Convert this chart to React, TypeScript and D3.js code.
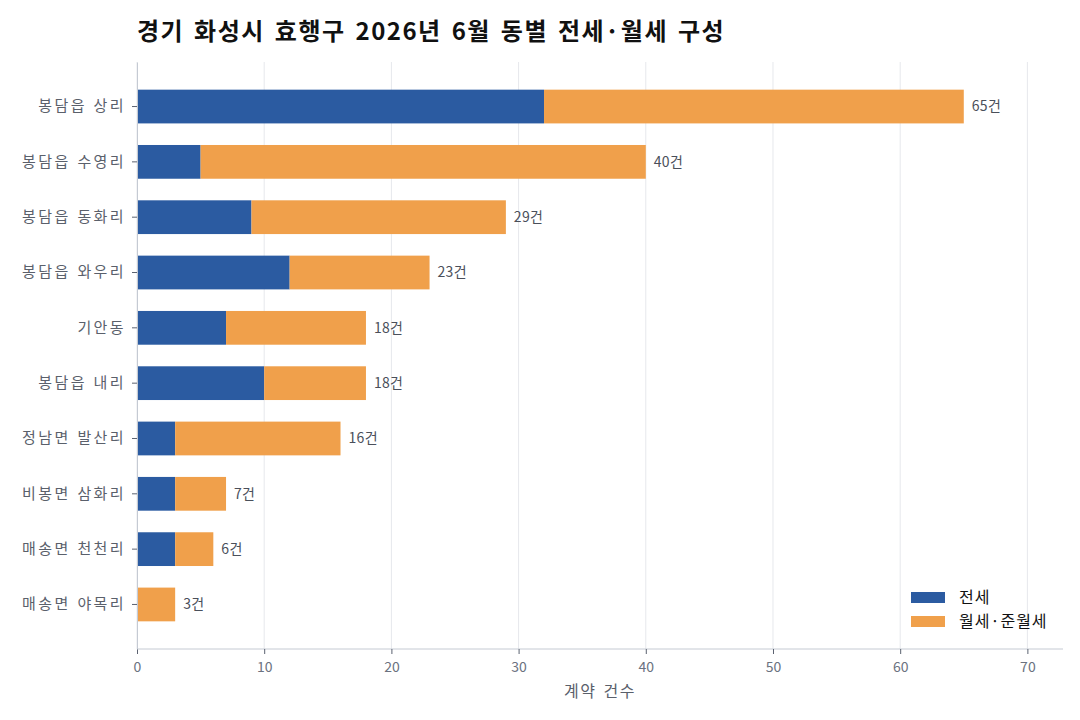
import { useEffect, useRef } from "react";
import { select, scaleLinear, scaleBand, axisBottom, axisLeft } from "d3";

const width = 1080;
const height = 720;
const margin = { top: 62, right: 17, bottom: 71, left: 137 };

const dongs = [
  "봉담읍 상리",
  "봉담읍 수영리",
  "봉담읍 동화리",
  "봉담읍 와우리",
  "기안동",
  "봉담읍 내리",
  "정남면 발산리",
  "비봉면 삼화리",
  "매송면 천천리",
  "매송면 야목리",
];
const jeonse = [32, 5, 9, 12, 7, 10, 3, 3, 3, 0];
const wolse = [33, 35, 20, 11, 11, 8, 13, 4, 3, 3];
const seriesNames = ["전세", "월세·준월세"];
const colors = ["#2b5ba1", "#f0a04b"];
const xTicks = [0, 10, 20, 30, 40, 50, 60, 70];

const font = "'Noto Sans CJK KR', 'Noto Sans', sans-serif";

export default function App() {
  const gRef = useRef<SVGGElement | null>(null);

  useEffect(() => {
    const innerW = width - margin.left - margin.right;
    const innerH = height - margin.top - margin.bottom;
    const totals = dongs.map((_, i) => jeonse[i] + wolse[i]);
    const maxTotal = Math.max(...totals);

    const x = scaleLinear().domain([0, maxTotal * 1.12]).range([0, innerW]);
    const y = scaleBand<string>()
      .domain(dongs)
      .range([0, innerH])
      .paddingInner(0.39)
      .paddingOuter(0.5);

    const g = select(gRef.current);
    g.selectAll("*").remove();

    // grid
    g.append("g")
      .selectAll("line")
      .data(xTicks)
      .join("line")
      .attr("x1", (d) => x(d))
      .attr("x2", (d) => x(d))
      .attr("y1", 0)
      .attr("y2", innerH)
      .attr("stroke", "#e6e8ec")
      .attr("stroke-width", 1);

    // bars
    const rows = g
      .append("g")
      .selectAll("g")
      .data(dongs)
      .join("g")
      .attr("transform", (d) => `translate(0,${y(d)})`);

    rows
      .append("rect")
      .attr("x", 0)
      .attr("y", 0)
      .attr("width", (_, i) => x(jeonse[i]))
      .attr("height", y.bandwidth())
      .attr("fill", colors[0]);

    rows
      .append("rect")
      .attr("x", (_, i) => x(jeonse[i]))
      .attr("y", 0)
      .attr("width", (_, i) => x(wolse[i]))
      .attr("height", y.bandwidth())
      .attr("fill", colors[1]);

    rows
      .append("text")
      .attr("x", (_, i) => x(totals[i]) + 8)
      .attr("y", y.bandwidth() / 2)
      .attr("dy", "0.35em")
      .attr("font-size", 14)
      .attr("letter-spacing", 0.3)
      .attr("font-family", font)
      .attr("fill", "#4a4f5a")
      .text((_, i) => `${totals[i]}건`);

    // axes
    const xAxis = g
      .append("g")
      .attr("transform", `translate(0,${innerH})`)
      .call(axisBottom(x).tickValues(xTicks).tickSize(5).tickSizeOuter(0));
    xAxis.select(".domain").attr("stroke", "#c5cad3").attr("d", `M0,0H${innerW}`);
    xAxis.selectAll(".tick line").attr("stroke", "#5b6270");
    xAxis
      .selectAll(".tick text")
      .attr("font-size", 14)
      .attr("font-family", font)
      .attr("fill", "#6b7280")
      .attr("dy", "1.05em");

    const yAxis = g
      .append("g")
      .call(axisLeft(y).tickSize(5).tickSizeOuter(0).tickPadding(6));
    yAxis.select(".domain").attr("stroke", "#c5cad3");
    yAxis.selectAll(".tick line").attr("stroke", "#5b6270");
    yAxis
      .selectAll(".tick text")
      .attr("font-size", 15)
      .attr("letter-spacing", 2.4)
      .attr("word-spacing", 1)
      .attr("font-family", font)
      .attr("fill", "#5a606b");

    // axis title
    g.append("text")
      .attr("x", innerW / 2)
      .attr("y", innerH + 48)
      .attr("text-anchor", "middle")
      .attr("font-size", 16)
      .attr("letter-spacing", 1.5)
      .attr("word-spacing", 2)
      .attr("font-family", font)
      .attr("fill", "#5a606b")
      .text("계약 건수");

    // legend
    const legend = g
      .append("g")
      .attr("transform", `translate(${innerW - 152},${innerH - 57})`);
    seriesNames.forEach((name, i) => {
      legend
        .append("rect")
        .attr("x", 0)
        .attr("y", i * 24)
        .attr("width", 34)
        .attr("height", 11)
        .attr("fill", colors[i]);
      legend
        .append("text")
        .attr("x", 48)
        .attr("y", i * 24 + 5.5)
        .attr("dy", "0.35em")
        .attr("font-size", 16)
        .attr("letter-spacing", 1)
        .attr("font-family", font)
        .attr("fill", "#111")
        .text(name);
    });
  }, []);

  return (
    <svg
      width={width}
      height={height}
      style={{ position: "absolute", left: 0, top: 0, background: "#fff" }}
    >
      <text
        x={137}
        y={40}
        fontSize={24}
        fontWeight="bold"
        letterSpacing={1.5}
        wordSpacing={3}
        fontFamily={font}
        fill="#111"
      >
        경기 화성시 효행구 2026년 6월 동별 전세·월세 구성
      </text>
      <g ref={gRef} transform={`translate(${margin.left},${margin.top})`} />
    </svg>
  );
}
